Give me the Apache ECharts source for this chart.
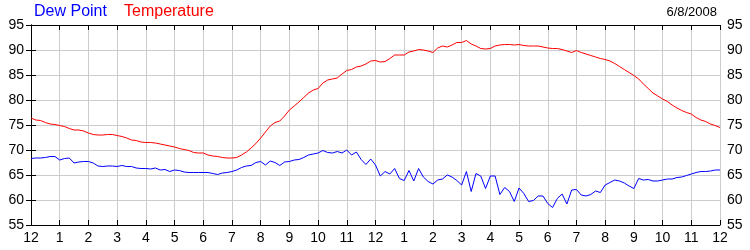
<!DOCTYPE html>
<html>
<head>
<meta charset="utf-8">
<script src="https://cdn.jsdelivr.net/npm/echarts@6/dist/echarts.min.js"></script>
<style>
html,body{margin:0;padding:0;background:#fff;}
#c{width:750px;height:250px;}
</style>
</head>
<body>
<div id="c"></div>
<script>
// 10-minute readings, starting at midnight (hour 0) through midnight (hour 24)
var temperature = [
  76.4, 76.0, 75.9, 75.5, 75.2, 75.1,
  74.9, 74.7, 74.3, 74.0, 74.0, 73.8,
  73.4, 73.1, 73.0, 73.0, 73.1, 73.1,
  72.9, 72.7, 72.4, 72.0, 71.9, 71.6,
  71.5, 71.5, 71.4, 71.2, 71.0, 70.8,
  70.6, 70.3, 70.1, 69.9, 69.5, 69.4,
  69.4, 69.0, 68.8, 68.7, 68.5, 68.4,
  68.4, 68.5, 69.0, 69.6, 70.4, 71.3,
  72.4, 73.6, 74.8, 75.5, 75.8, 76.8,
  78.0, 78.8, 79.6, 80.5, 81.4, 82.0,
  82.3, 83.4, 84.0, 84.2, 84.4, 85.2,
  85.9, 86.1, 86.6, 86.8, 87.2, 87.8,
  87.9, 87.6, 87.7, 88.3, 89.0, 89.0,
  89.0, 89.6, 89.8, 90.1, 90.0, 89.8,
  89.5, 90.4, 90.8, 90.6, 91.0, 91.5,
  91.5, 91.9, 91.2, 90.8, 90.3, 90.2,
  90.3, 90.8, 91.0, 91.1, 91.1, 91.0,
  91.1, 90.9, 90.8, 90.8, 90.8, 90.6,
  90.4, 90.3, 90.3, 90.1, 89.8, 89.5,
  89.9, 89.5, 89.2, 88.9, 88.6, 88.3,
  88.1, 87.8, 87.3, 86.7, 86.1, 85.5,
  84.9, 84.2, 83.2, 82.3, 81.4, 80.8,
  80.2, 79.7, 79.0, 78.4, 77.9, 77.5,
  77.2, 76.5, 76.0, 75.7, 75.2, 74.9,
  74.5
];
var dewPoint = [
  68.3, 68.4, 68.4, 68.5, 68.7, 68.7,
  68.0, 68.3, 68.4, 67.4, 67.6, 67.7,
  67.7, 67.4, 66.8, 66.7, 66.8, 66.8,
  66.7, 66.9, 66.7, 66.7, 66.4, 66.3,
  66.3, 66.2, 66.4, 66.0, 66.1, 65.7,
  66.0, 65.9, 65.6, 65.5, 65.5, 65.5,
  65.5, 65.5, 65.3, 65.1, 65.4, 65.5,
  65.7, 66.0, 66.5, 66.8, 66.9, 67.5,
  67.7, 67.0, 67.8, 67.5, 66.9, 67.6,
  67.7, 68.0, 68.1, 68.5, 69.0, 69.2,
  69.4, 69.9, 69.5, 69.4, 69.7, 69.4,
  70.0, 69.0, 69.6, 68.1, 67.1, 68.2,
  67.0, 64.8, 65.7, 65.2, 66.3, 64.3,
  63.9, 65.9, 63.8, 66.3, 64.6, 63.7,
  63.2, 64.0, 64.2, 65.0, 64.6, 63.9,
  63.0, 65.7, 61.7, 65.3, 64.8, 62.3,
  64.8, 64.8, 61.1, 62.5, 61.7, 59.7,
  62.4, 61.3, 59.7, 59.9, 60.8, 60.8,
  59.3, 58.5, 60.3, 61.2, 59.2, 62.0,
  62.1, 61.0, 60.8, 61.1, 61.8, 61.5,
  63.0, 63.5, 64.0, 63.8, 63.4, 62.8,
  62.3, 64.3, 64.0, 64.1, 63.8, 63.8,
  64.0, 64.2, 64.2, 64.5, 64.6, 64.9,
  65.2, 65.5, 65.7, 65.7, 65.8, 66.0,
  66.0
];
var hourLabels = ['12','1','2','3','4','5','6','7','8','9','10','11',
                  '12','1','2','3','4','5','6','7','8','9','10','11','12'];
var legendNames = ['Dew Point', 'Temperature'];
var dateLabel = '6/8/2008';
var stepsPerHour = 6;

var FONT = '"Liberation Sans", Arial, sans-serif';
function toPairs(arr){ return arr.map(function(v,i){ return [i/stepsPerHour, v]; }); }

var chart = echarts.init(document.getElementById('c'), null, {renderer:'canvas'});
var yCommon = {
  type:'value', min:55, max:95, interval:5,
  axisLine:{show:true, lineStyle:{color:'#000', width:1}},
  axisTick:{show:true, inside:false, length:5, lineStyle:{color:'#000'}},
  axisLabel:{color:'#000', fontSize:14, fontFamily:FONT, margin:7}
};
chart.setOption({
  animation:false,
  backgroundColor:'#fff',
  grid:{left:31, right:30, top:25, bottom:25, containLabel:false},
  graphic:[
    {type:'text', left:34, top:4, style:{text:legendNames[0], fill:'#0000ff', font:'16px ' + FONT}},
    {type:'text', left:124, top:4, style:{text:legendNames[1], fill:'#ff0000', font:'16px ' + FONT}},
    {type:'text', right:33, top:6, style:{text:dateLabel, fill:'#000', font:'13px ' + FONT}}
  ],
  xAxis:[
    {type:'value', min:0, max:24, interval:1, position:'bottom',
     axisLine:{show:true, onZero:false, lineStyle:{color:'#000', width:1}},
     axisTick:{show:true, inside:true, length:5, lineStyle:{color:'#000'}},
     axisLabel:{color:'#000', fontSize:14, fontFamily:FONT, margin:6,
       formatter:function(v){ return hourLabels[Math.round(v)]; }},
     splitLine:{show:true, lineStyle:{color:'#cccccc', width:1}}},
    {type:'value', min:0, max:24, interval:1, position:'top',
     axisLine:{show:true, onZero:false, lineStyle:{color:'#000', width:1}},
     axisTick:{show:true, inside:true, length:5, lineStyle:{color:'#000'}},
     axisLabel:{show:false}, splitLine:{show:false}}
  ],
  yAxis:[
    Object.assign({}, yCommon, {position:'left', splitLine:{show:true, lineStyle:{color:'#cccccc', width:1}}}),
    Object.assign({}, yCommon, {position:'right', splitLine:{show:false}})
  ],
  series:[
    {name:legendNames[1], type:'line', xAxisIndex:0, yAxisIndex:0, data:toPairs(temperature),
     showSymbol:false, symbol:'none', lineStyle:{color:'#ff0000', width:1}, z:3},
    {name:legendNames[0], type:'line', xAxisIndex:0, yAxisIndex:0, data:toPairs(dewPoint),
     showSymbol:false, symbol:'none', lineStyle:{color:'#0000ff', width:1}, z:4}
  ]
});
</script>
</body>
</html>
